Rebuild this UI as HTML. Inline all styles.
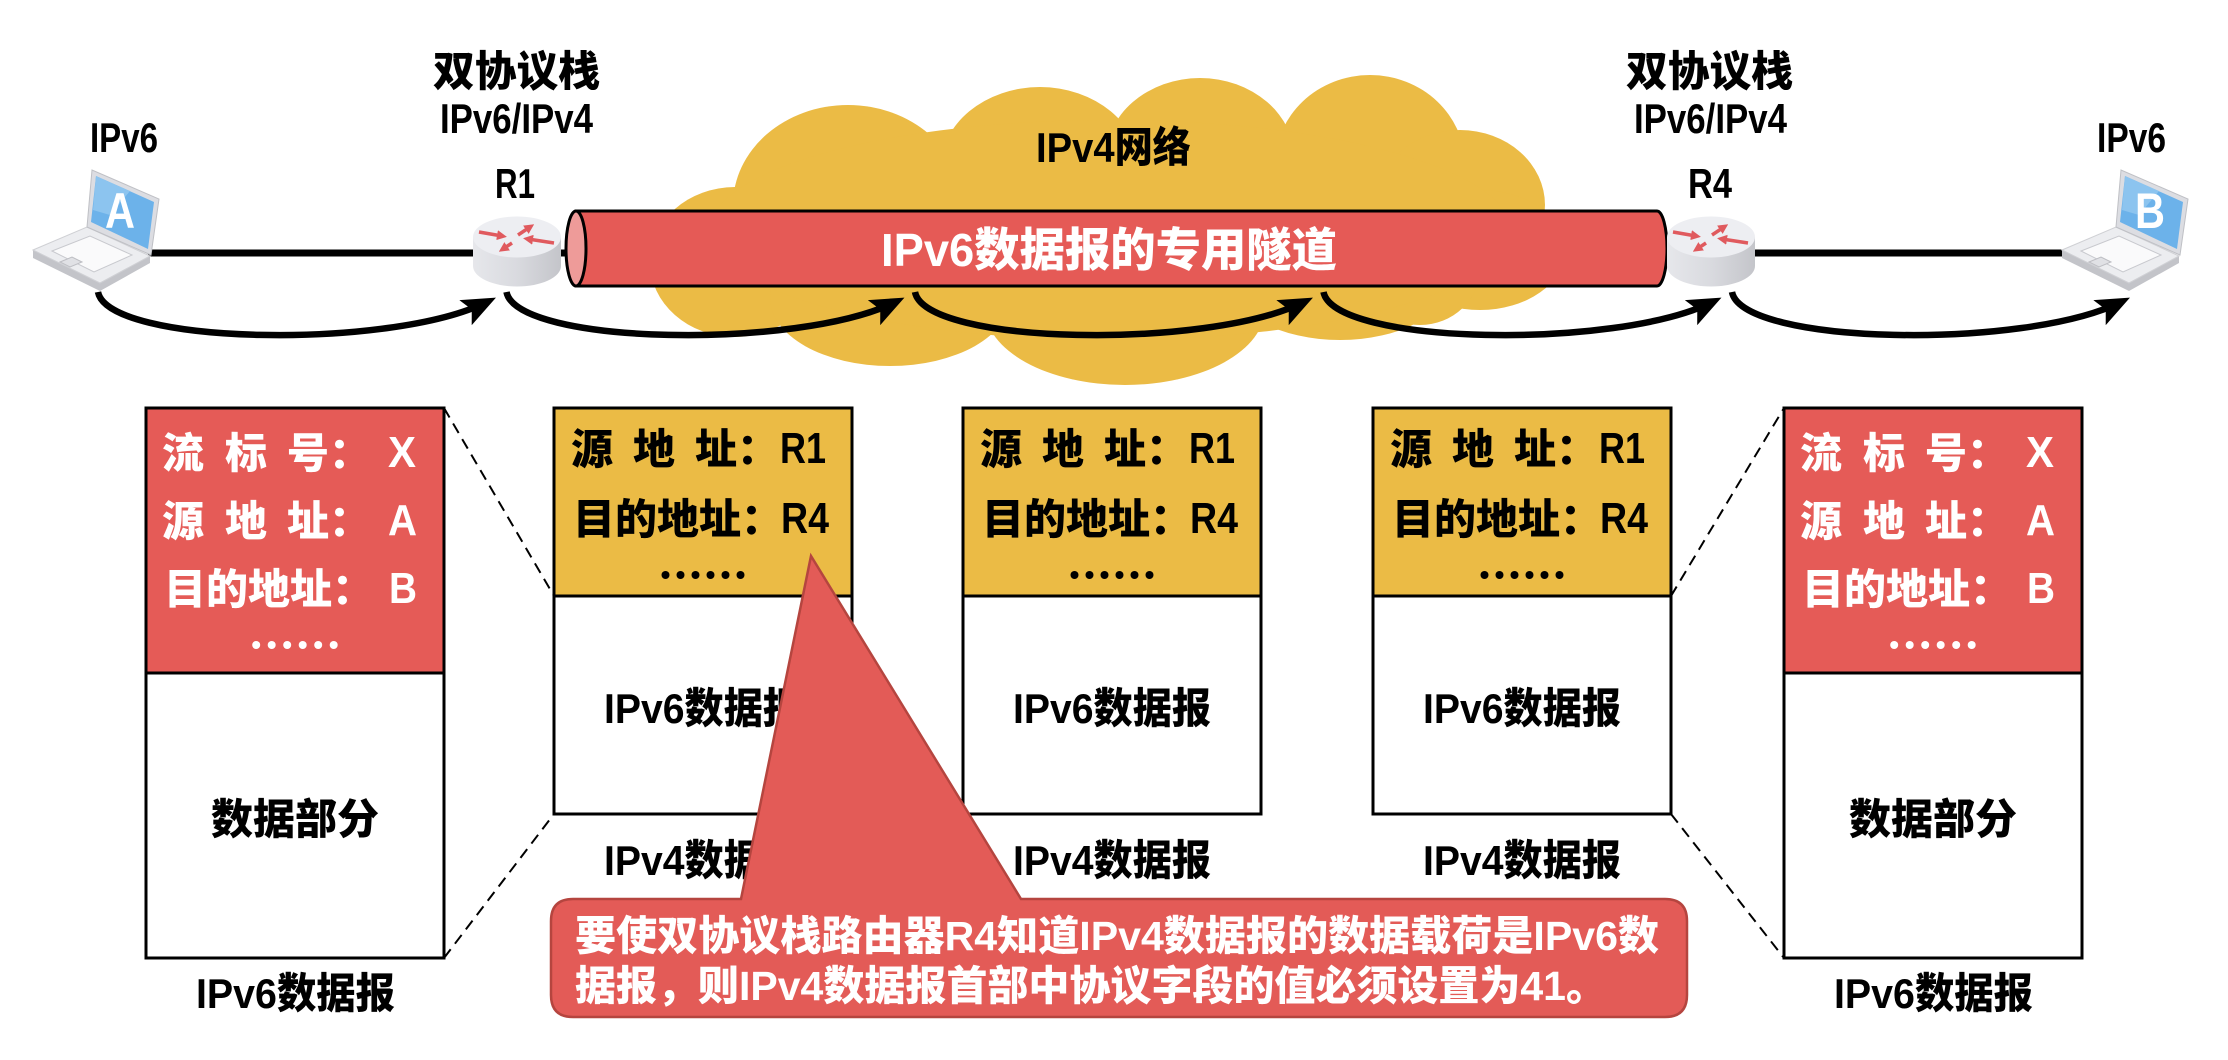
<!DOCTYPE html>
<html><head><meta charset="utf-8"><style>
html,body{margin:0;padding:0;background:#fff;}
svg{display:block;}
text{font-family:"Liberation Sans","Noto Sans CJK SC",sans-serif;font-weight:900;}
</style></head><body>
<svg width="2228" height="1060" viewBox="0 0 2228 1060" xmlns="http://www.w3.org/2000/svg">
<defs>
<marker id="ah" markerUnits="userSpaceOnUse" markerWidth="34" markerHeight="28" viewBox="0 0 34 28" refX="24" refY="14" orient="auto">
<path d="M0,0 L34,14 L0,28 L7,14 Z" fill="#000"/>
</marker>
<marker id="rh" markerUnits="userSpaceOnUse" markerWidth="10" markerHeight="10" viewBox="0 0 10 10" refX="5" refY="5" orient="auto">
<path d="M0,0 L10,5 L0,10 Z" fill="#E05A5E"/>
</marker>
<linearGradient id="rg" x1="0" x2="1" y1="0" y2="0">
<stop offset="0" stop-color="#E6E7EB"/><stop offset="0.5" stop-color="#D9DADF"/><stop offset="1" stop-color="#C4C5CA"/>
</linearGradient>
</defs>

<!-- Cloud -->
<g fill="#EBBB45">
<ellipse cx="848" cy="205" rx="115" ry="100"/>
<ellipse cx="1040" cy="170" rx="100" ry="83"/>
<ellipse cx="1200" cy="160" rx="95" ry="82"/>
<ellipse cx="1370" cy="165" rx="95" ry="90"/>
<ellipse cx="1460" cy="205" rx="85" ry="75"/>
<ellipse cx="1480" cy="250" rx="85" ry="60"/>
<ellipse cx="735" cy="262" rx="85" ry="75"/>
<ellipse cx="890" cy="298" rx="120" ry="68"/>
<ellipse cx="1125" cy="308" rx="140" ry="77"/>
<ellipse cx="1340" cy="280" rx="110" ry="60"/>
<ellipse cx="1420" cy="268" rx="60" ry="57"/>
<ellipse cx="1110" cy="230" rx="400" ry="110"/>
</g>
<text x="1036" y="162" font-size="42" textLength="155" lengthAdjust="spacingAndGlyphs" fill="#000">IPv4网络</text>

<!-- connecting lines -->
<line x1="148" y1="253" x2="580" y2="253" stroke="#000" stroke-width="7"/>
<line x1="1650" y1="253" x2="2066" y2="253" stroke="#000" stroke-width="7"/>

<!-- Tunnel -->
<path d="M576,211 L1657,211 A10,37.5 0 0 1 1657,286 L576,286 Z" fill="#E55A56" stroke="#000" stroke-width="3"/>
<ellipse cx="576" cy="248.5" rx="10" ry="37.5" fill="#EE9B99" stroke="#000" stroke-width="3"/>
<text x="881" y="266" font-size="46" textLength="456" lengthAdjust="spacingAndGlyphs" fill="#fff">IPv6数据报的专用隧道</text>

<!-- Routers -->
<g id="r1">
<path d="M473,237 L473,266 A44,20.5 0 0 0 561,266 L561,237 Z" fill="url(#rg)"/>
<ellipse cx="517" cy="237" rx="44" ry="20.5" fill="#EDEEF2"/>
<g stroke="#E05A5E" stroke-width="3.5" fill="none">
<line x1="479" y1="232" x2="502" y2="236" marker-end="url(#rh)"/>
<line x1="518" y1="235" x2="530" y2="227" marker-end="url(#rh)"/>
<line x1="554" y1="243" x2="528" y2="239" marker-end="url(#rh)"/>
<line x1="512" y1="243" x2="503" y2="249" marker-end="url(#rh)"/>
</g>
</g>
<g transform="translate(1194,0)">
<path d="M473,237 L473,266 A44,20.5 0 0 0 561,266 L561,237 Z" fill="url(#rg)"/>
<ellipse cx="517" cy="237" rx="44" ry="20.5" fill="#EDEEF2"/>
<g stroke="#E05A5E" stroke-width="3.5" fill="none">
<line x1="479" y1="232" x2="502" y2="236" marker-end="url(#rh)"/>
<line x1="518" y1="235" x2="530" y2="227" marker-end="url(#rh)"/>
<line x1="554" y1="243" x2="528" y2="239" marker-end="url(#rh)"/>
<line x1="512" y1="243" x2="503" y2="249" marker-end="url(#rh)"/>
</g>
</g>

<!-- Laptops -->
<g id="lapA">
<polygon points="33,250 100,283 150,256 150,263 100,291 33,258" fill="#C3C4C9"/>
<polygon points="33,250 87,227 150,256 100,283" fill="#ECEDF0" stroke="#CFD0D4" stroke-width="1"/>
<polygon points="52,251 90,236 132,255 94,272" fill="#FAFAFB" stroke="#C8C9CE" stroke-width="1"/>
<polygon points="60,262 72,257 82,262 70,267" fill="#E0E1E5" stroke="#BDBEC3" stroke-width="1"/>
<polygon points="87,227 92,170 159,199 151,255" fill="#DCDDE2" stroke="#BFC0C5" stroke-width="1"/>
<polygon points="91,222 96,176 154,202 148,249" fill="#6CB2EA"/>
<polygon points="96,176 130,191 110,215 93,210" fill="#8CC4EF"/>
</g>
<text x="105" y="228" font-size="50" textLength="30" lengthAdjust="spacingAndGlyphs" fill="#fff">A</text>
<g transform="translate(2029,0)">
<polygon points="33,250 100,283 150,256 150,263 100,291 33,258" fill="#C3C4C9"/>
<polygon points="33,250 87,227 150,256 100,283" fill="#ECEDF0" stroke="#CFD0D4" stroke-width="1"/>
<polygon points="52,251 90,236 132,255 94,272" fill="#FAFAFB" stroke="#C8C9CE" stroke-width="1"/>
<polygon points="60,262 72,257 82,262 70,267" fill="#E0E1E5" stroke="#BDBEC3" stroke-width="1"/>
<polygon points="87,227 92,170 159,199 151,255" fill="#DCDDE2" stroke="#BFC0C5" stroke-width="1"/>
<polygon points="91,222 96,176 154,202 148,249" fill="#6CB2EA"/>
<polygon points="96,176 130,191 110,215 93,210" fill="#8CC4EF"/>
</g>
<text x="2135" y="228" font-size="50" textLength="30" lengthAdjust="spacingAndGlyphs" fill="#fff">B</text>

<!-- Curved arrows -->
<g fill="none" stroke="#000" stroke-width="6.5">
<path d="M98,292 C108,345 390,350 487,302" marker-end="url(#ah)"/>
<path transform="translate(408.5,0)" d="M98,292 C108,345 390,350 487,302" marker-end="url(#ah)"/>
<path transform="translate(817,0)" d="M98,292 C108,345 390,350 487,302" marker-end="url(#ah)"/>
<path transform="translate(1225.5,0)" d="M98,292 C108,345 390,350 487,302" marker-end="url(#ah)"/>
<path transform="translate(1634,0)" d="M98,292 C108,345 390,350 487,302" marker-end="url(#ah)"/>
</g>

<!-- Top labels -->
<text x="90" y="152" font-size="42" textLength="68" lengthAdjust="spacingAndGlyphs">IPv6</text>
<text x="433" y="86" font-size="42" textLength="167" lengthAdjust="spacingAndGlyphs">双协议栈</text>
<text x="440" y="133" font-size="42" textLength="153" lengthAdjust="spacingAndGlyphs">IPv6/IPv4</text>
<text x="495" y="198" font-size="42" textLength="40" lengthAdjust="spacingAndGlyphs">R1</text>
<text x="1626" y="86" font-size="42" textLength="167" lengthAdjust="spacingAndGlyphs">双协议栈</text>
<text x="1634" y="133" font-size="42" textLength="153" lengthAdjust="spacingAndGlyphs">IPv6/IPv4</text>
<text x="1688" y="198" font-size="42" textLength="44" lengthAdjust="spacingAndGlyphs">R4</text>
<text x="2097" y="152" font-size="42" textLength="69" lengthAdjust="spacingAndGlyphs">IPv6</text>

<!-- Dashed connectors -->
<g stroke="#000" stroke-width="2" stroke-dasharray="11,7" fill="none">
<line x1="444" y1="408" x2="554" y2="596"/>
<line x1="444" y1="958" x2="554" y2="814"/>
<line x1="1671" y1="596" x2="1784" y2="408"/>
<line x1="1671" y1="814" x2="1784" y2="958"/>
</g>

<!-- Box 1 (IPv6) -->
<rect x="146" y="408" width="298" height="265" fill="#E55B57"/>
<rect x="146" y="408" width="298" height="550" fill="none" stroke="#000" stroke-width="3"/>
<line x1="146" y1="673" x2="444" y2="673" stroke="#000" stroke-width="3"/>
<g fill="#fff" font-size="42">
<text x="162" y="468">流</text><text x="225" y="468">标</text><text x="287" y="468">号</text><text x="329" y="468">：</text>
<text x="388" y="467" font-size="44" textLength="28" lengthAdjust="spacingAndGlyphs">X</text>
<text x="162" y="536">源</text><text x="225" y="536">地</text><text x="287" y="536">址</text><text x="329" y="536">：</text>
<text x="388" y="535" font-size="44" textLength="29" lengthAdjust="spacingAndGlyphs">A</text>
<text x="164" y="604">目的地址：</text>
<text x="389" y="603" font-size="44" textLength="28" lengthAdjust="spacingAndGlyphs">B</text>
<circle cx="256.2" cy="645" r="4"/><circle cx="271.7" cy="645" r="4"/><circle cx="287.2" cy="645" r="4"/><circle cx="302.7" cy="645" r="4"/><circle cx="318.2" cy="645" r="4"/><circle cx="333.7" cy="645" r="4"/>
</g>
<text x="211" y="834" font-size="42" textLength="168" lengthAdjust="spacingAndGlyphs">数据部分</text>
<text x="196" y="1008" font-size="42" textLength="199" lengthAdjust="spacingAndGlyphs">IPv6数据报</text>

<!-- Box 5 (IPv6) -->
<g transform="translate(1638,0)">
<rect x="146" y="408" width="298" height="265" fill="#E55B57"/>
<rect x="146" y="408" width="298" height="550" fill="none" stroke="#000" stroke-width="3"/>
<line x1="146" y1="673" x2="444" y2="673" stroke="#000" stroke-width="3"/>
<g fill="#fff" font-size="42">
<text x="162" y="468">流</text><text x="225" y="468">标</text><text x="287" y="468">号</text><text x="329" y="468">：</text>
<text x="388" y="467" font-size="44" textLength="28" lengthAdjust="spacingAndGlyphs">X</text>
<text x="162" y="536">源</text><text x="225" y="536">地</text><text x="287" y="536">址</text><text x="329" y="536">：</text>
<text x="388" y="535" font-size="44" textLength="29" lengthAdjust="spacingAndGlyphs">A</text>
<text x="164" y="604">目的地址：</text>
<text x="389" y="603" font-size="44" textLength="28" lengthAdjust="spacingAndGlyphs">B</text>
<circle cx="256.2" cy="645" r="4"/><circle cx="271.7" cy="645" r="4"/><circle cx="287.2" cy="645" r="4"/><circle cx="302.7" cy="645" r="4"/><circle cx="318.2" cy="645" r="4"/><circle cx="333.7" cy="645" r="4"/>
</g>
<text x="211" y="834" font-size="42" textLength="168" lengthAdjust="spacingAndGlyphs">数据部分</text>
<text x="196" y="1008" font-size="42" textLength="199" lengthAdjust="spacingAndGlyphs">IPv6数据报</text>
</g>

<!-- Boxes 2-4 (IPv4) -->
<g id="b2">
<rect x="554" y="408" width="298" height="188" fill="#EBBB45"/>
<rect x="554" y="408" width="298" height="406" fill="none" stroke="#000" stroke-width="3"/>
<line x1="554" y1="596" x2="852" y2="596" stroke="#000" stroke-width="3"/>
<g fill="#000" font-size="42">
<text x="571" y="464">源</text><text x="633" y="464">地</text><text x="695" y="464">址</text><text x="737" y="464">：</text>
<text x="780" y="463" font-size="44" textLength="46" lengthAdjust="spacingAndGlyphs">R1</text>
<text x="573" y="534">目的地址：</text>
<text x="781" y="533" font-size="44" textLength="48" lengthAdjust="spacingAndGlyphs">R4</text>
<circle cx="665.5" cy="575" r="4"/><circle cx="680.5" cy="575" r="4"/><circle cx="695.5" cy="575" r="4"/><circle cx="710.5" cy="575" r="4"/><circle cx="725.5" cy="575" r="4"/><circle cx="740.5" cy="575" r="4"/>
</g>
<text x="604" y="723" font-size="42" textLength="198" lengthAdjust="spacingAndGlyphs">IPv6数据报</text>
<text x="604" y="875" font-size="42" textLength="198" lengthAdjust="spacingAndGlyphs">IPv4数据报</text>
</g>
<g transform="translate(409,0)">
<rect x="554" y="408" width="298" height="188" fill="#EBBB45"/>
<rect x="554" y="408" width="298" height="406" fill="none" stroke="#000" stroke-width="3"/>
<line x1="554" y1="596" x2="852" y2="596" stroke="#000" stroke-width="3"/>
<g fill="#000" font-size="42">
<text x="571" y="464">源</text><text x="633" y="464">地</text><text x="695" y="464">址</text><text x="737" y="464">：</text>
<text x="780" y="463" font-size="44" textLength="46" lengthAdjust="spacingAndGlyphs">R1</text>
<text x="573" y="534">目的地址：</text>
<text x="781" y="533" font-size="44" textLength="48" lengthAdjust="spacingAndGlyphs">R4</text>
<circle cx="665.5" cy="575" r="4"/><circle cx="680.5" cy="575" r="4"/><circle cx="695.5" cy="575" r="4"/><circle cx="710.5" cy="575" r="4"/><circle cx="725.5" cy="575" r="4"/><circle cx="740.5" cy="575" r="4"/>
</g>
<text x="604" y="723" font-size="42" textLength="198" lengthAdjust="spacingAndGlyphs">IPv6数据报</text>
<text x="604" y="875" font-size="42" textLength="198" lengthAdjust="spacingAndGlyphs">IPv4数据报</text>
</g>
<g transform="translate(819,0)">
<rect x="554" y="408" width="298" height="188" fill="#EBBB45"/>
<rect x="554" y="408" width="298" height="406" fill="none" stroke="#000" stroke-width="3"/>
<line x1="554" y1="596" x2="852" y2="596" stroke="#000" stroke-width="3"/>
<g fill="#000" font-size="42">
<text x="571" y="464">源</text><text x="633" y="464">地</text><text x="695" y="464">址</text><text x="737" y="464">：</text>
<text x="780" y="463" font-size="44" textLength="46" lengthAdjust="spacingAndGlyphs">R1</text>
<text x="573" y="534">目的地址：</text>
<text x="781" y="533" font-size="44" textLength="48" lengthAdjust="spacingAndGlyphs">R4</text>
<circle cx="665.5" cy="575" r="4"/><circle cx="680.5" cy="575" r="4"/><circle cx="695.5" cy="575" r="4"/><circle cx="710.5" cy="575" r="4"/><circle cx="725.5" cy="575" r="4"/><circle cx="740.5" cy="575" r="4"/>
</g>
<text x="604" y="723" font-size="42" textLength="198" lengthAdjust="spacingAndGlyphs">IPv6数据报</text>
<text x="604" y="875" font-size="42" textLength="198" lengthAdjust="spacingAndGlyphs">IPv4数据报</text>
</g>

<!-- Callout -->
<path d="M573,899 L741,899 L811,556 L1021,899 L1665,899 Q1687,899 1687,921 L1687,995 Q1687,1017 1665,1017 L573,1017 Q551,1017 551,995 L551,921 Q551,899 573,899 Z" fill="#E35B57" stroke="#B5453F" stroke-width="2.5"/>
<text x="575" y="950" font-size="41" textLength="1084" lengthAdjust="spacingAndGlyphs" fill="#fff">要使双协议栈路由器R4知道IPv4数据报的数据载荷是IPv6数</text>
<text x="575" y="1000" font-size="41" textLength="1032" lengthAdjust="spacingAndGlyphs" fill="#fff">据报，则IPv4数据报首部中协议字段的值必须设置为41。</text>
</svg>
</body></html>
